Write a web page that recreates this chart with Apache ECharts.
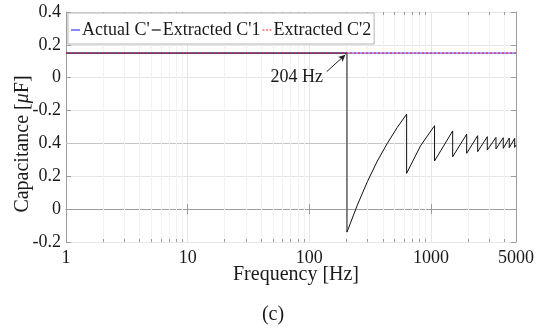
<!DOCTYPE html>
<html>
<head>
<meta charset="utf-8">
<script src="https://cdn.jsdelivr.net/npm/echarts@6/dist/echarts.min.js"></script>
<style>
  html, body { margin: 0; padding: 0; background: #fff; }
  #chart { width: 544px; height: 329px; }
</style>
</head>
<body>
<div id="chart"></div>
<script>
// Frequency range of the sweep (Hz)
const freqMin = 1;
const freqMax = 5000;

// Vertical axis: stacked scale, positions run from -0.2 to 1.2 in steps of 0.2
const yMin = -0.2;
const yMax = 1.2;
const yStep = 0.2;
const yTickLabels = ['-0.2', '0', '0.2', '0.4', '-0.2', '0', '0.2', '0.4'];

// Frequency where the first extraction jumps
const dropFreq = 204;

// Actual C' (constant)
const actualFreq = [1, 5000];
const actualCap = [0.95, 0.95];

// Extracted C'1: flat, then a sawtooth above the jump frequency
const extr1Freq = [1, 204, 204, 248, 300, 362, 438, 529, 631, 631, 820, 1070, 1070,
  1508, 1508, 1966, 1966, 2421, 2421, 2904, 2904, 3423, 3423, 3929, 3929,
  4402, 4402, 4877, 4877, 5000];
const extr1Cap = [0.95, 0.95, -0.14, 0.024, 0.167, 0.292, 0.401, 0.498, 0.578, 0.218, 0.385, 0.508, 0.293,
  0.476, 0.319, 0.456, 0.340, 0.447, 0.350, 0.441, 0.360, 0.437, 0.366, 0.435, 0.370,
  0.433, 0.374, 0.431, 0.376, 0.39];

// Extracted C'2 (constant)
const extr2Freq = [1, 5000];
const extr2Cap = [0.95, 0.95];

// Minor log-grid positions
const minorFreqs = [2, 3, 4, 5, 6, 7, 8, 9, 20, 30, 40, 50, 60, 70, 80, 90,
  200, 300, 400, 500, 600, 700, 800, 900, 2000, 3000, 4000];

// Level of the darker separator line
const separatorLevel = 0.4;

const pair = (xs, ys) => xs.map((x, i) => [x, ys[i]]);

const FONT = 'Liberation Serif';
const TXT = '#1a1a1a';
const AXIS = '#9c9c9c';
const MINOR_GRID = '#f2f2f2';
const MINOR_TICK_PX = 3;

const chart = echarts.init(document.getElementById('chart'), null, { renderer: 'canvas' });

const yLabel = v => {
  const i = Math.round((v - yMin) / yStep);
  return yTickLabels[i] !== undefined ? yTickLabels[i] : '';
};

// minor log grid lines plus the short minor ticks on the bottom and top edges
function renderMinor(params, api) {
  const f = api.value(0);
  const bottom = api.coord([f, yMin]);
  const top = api.coord([f, yMax]);
  const x = Math.round(bottom[0]) + 0.5;
  return {
    type: 'group',
    children: [
      { type: 'line', shape: { x1: x, y1: top[1], x2: x, y2: bottom[1] },
        style: { stroke: MINOR_GRID, lineWidth: 1 } },
      { type: 'line', shape: { x1: x, y1: bottom[1], x2: x, y2: bottom[1] - MINOR_TICK_PX },
        style: { stroke: AXIS, lineWidth: 1 } },
      { type: 'line', shape: { x1: x, y1: top[1], x2: x, y2: top[1] + MINOR_TICK_PX },
        style: { stroke: AXIS, lineWidth: 1 } }
    ]
  };
}

const option = {
  animation: false,
  backgroundColor: '#fff',
  grid: { left: 66, right: 28, top: 12, bottom: 87, containLabel: false },
  legend: {
    left: 68, top: 13,
    z: 10,
    data: [
      { name: "Actual C'", icon: 'rect' },
      { name: "Extracted C'1", icon: 'rect' },
      { name: "Extracted C'2", icon: 'path://M0,0h2v1h-2zM3.5,0h2v1h-2zM7,0h2v1h-2z' }
    ],
    itemWidth: 9, itemHeight: 1.2, itemGap: 2,
    padding: [7, 3, 4, 3],
    backgroundColor: '#fff',
    borderColor: '#b3b3b3', borderWidth: 1, borderRadius: 0,
    textStyle: { fontFamily: FONT, fontSize: 18, color: TXT, padding: [0, 0, 0, -3], lineHeight: 20 }
  },
  xAxis: [{
    type: 'log', logBase: 10, min: freqMin, max: freqMax,
    position: 'bottom',
    axisLine: { lineStyle: { color: AXIS, width: 1 } },
    axisTick: { inside: true, length: 5, lineStyle: { color: AXIS } },
    axisLabel: { fontFamily: FONT, fontSize: 18, color: TXT, margin: 7,
      formatter: v => String(Math.round(v)) },
    splitLine: { show: true, lineStyle: { color: '#e6e6e6', width: 1 } }
  }, {
    type: 'log', logBase: 10, min: freqMin, max: freqMax,
    position: 'top',
    axisLine: { lineStyle: { color: AXIS, width: 1 } },
    axisTick: { inside: true, length: 5, lineStyle: { color: AXIS } },
    axisLabel: { show: false },
    splitLine: { show: false }
  }],
  yAxis: [{
    type: 'value', min: yMin, max: yMax, interval: yStep,
    position: 'left',
    axisLine: { show: true, lineStyle: { color: AXIS, width: 1 } },
    axisTick: { show: true, inside: true, length: 5, lineStyle: { color: AXIS } },
    axisLabel: { fontFamily: FONT, fontSize: 18, color: TXT, margin: 5, formatter: yLabel },
    splitLine: { show: true, lineStyle: { color: '#e6e6e6', width: 1 } }
  }, {
    type: 'value', min: yMin, max: yMax, interval: yStep,
    position: 'right',
    axisLine: { show: true, lineStyle: { color: AXIS, width: 1 } },
    axisTick: { show: true, inside: true, length: 5, lineStyle: { color: AXIS } },
    axisLabel: { show: false },
    splitLine: { show: false }
  }],
  series: [{
    name: 'minor-grid',
    type: 'custom', z: 1, silent: true,
    xAxisIndex: 0, yAxisIndex: 0,
    data: minorFreqs.map(f => [f]),
    encode: { x: 0 },
    renderItem: renderMinor
  }, {
    name: 'separator',
    type: 'line', z: 1, data: [], silent: true,
    markLine: {
      z: 1, silent: true, symbol: ['none', 'none'], animation: false,
      label: { show: false },
      emphasis: { disabled: true },
      lineStyle: { type: 'solid', width: 1, color: '#c4c4c4' },
      data: [{ yAxis: separatorLevel }]
    }
  }, {
    name: "Actual C'",
    type: 'line', z: 3,
    data: pair(actualFreq, actualCap),
    showSymbol: false, symbol: 'none',
    lineStyle: { color: '#3c3cff', width: 1 },
    itemStyle: { color: '#3c3cff' }
  }, {
    name: "Extracted C'1",
    type: 'line', z: 4,
    data: pair(extr1Freq, extr1Cap),
    showSymbol: false, symbol: 'none',
    lineStyle: { color: '#111111', width: 1 },
    itemStyle: { color: '#111111' },
    markLine: {
      z: 4, silent: true, animation: false,
      symbol: ['none', 'arrow'], symbolSize: [5, 7],
      label: { show: false },
      lineStyle: { type: 'solid', width: 1, color: '#222' },
      data: [[{ coord: [139, 0.837] }, { coord: [198, 0.94] }]]
    },
    markPoint: {
      silent: true, animation: false,
      symbol: 'circle', symbolSize: 0,
      label: { show: true, position: 'inside', fontFamily: FONT, fontSize: 18, color: TXT,
        formatter: () => dropFreq + ' Hz' },
      data: [{ coord: [79, 0.80] }]
    }
  }, {
    name: "Extracted C'2",
    type: 'line', z: 5,
    data: pair(extr2Freq, extr2Cap),
    showSymbol: false, symbol: 'none',
    lineStyle: { color: '#ff2020', width: 1, type: [2, 2] },
    itemStyle: { color: '#ff2020' }
  }],
  graphic: [{
    type: 'text', x: 23, y: 144, rotation: Math.PI / 2,
    style: {
      text: 'Capacitance [{i|μ}F]',
      fontFamily: FONT, fontSize: 20, fill: TXT,
      align: 'center', verticalAlign: 'middle',
      rich: { i: { fontStyle: 'italic', fontFamily: FONT, fontSize: 20, fill: TXT } }
    }
  }, {
    type: 'text', x: 296, y: 275,
    style: { text: 'Frequency [Hz]', fontFamily: FONT, fontSize: 20, fill: TXT,
      align: 'center', verticalAlign: 'middle' }
  }, {
    type: 'text', x: 273, y: 315,
    style: { text: '(c)', fontFamily: FONT, fontSize: 20, fill: TXT,
      align: 'center', verticalAlign: 'middle' }
  }]
};

chart.setOption(option);
</script>
</body>
</html>
